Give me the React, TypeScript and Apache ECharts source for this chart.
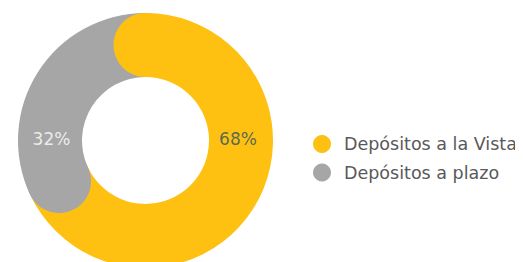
import React, { useEffect, useRef } from "react";
import * as echarts from "echarts";

const categories = ["Depósitos a la Vista", "Depósitos a plazo"];
const values = [68, 32];
const colors = ["#FEC111", "#A6A6A6"];
const labelColors = ["#2E5163", "#FFFFFF"];
// angle (0-100 scale, clockwise from top) where each percentage label sits
const labelAngles = [25, 75];

const CX = 137.5;
const CY = 132.5;
const INNER = 63.5;
const OUTER = 127.5;
const MID = (INNER + OUTER) / 2;
const LABEL_OFFSETS = [
  [-3, -1.5],
  [1.5, -1.5],
];

export default function App() {
  const ref = useRef<HTMLDivElement>(null);
  useEffect(() => {
    if (!ref.current) return;
    const chart = echarts.init(ref.current, null, { renderer: "svg" });
    const total = values.reduce((a, b) => a + b, 0);
    const starts: number[] = [];
    let acc = 0;
    values.forEach((v) => {
      starts.push((acc / total) * 100);
      acc += v;
    });
    const font = "'DejaVu Sans', sans-serif";
    chart.setOption({
      animation: false,
      polar: { center: [CX, CY], radius: OUTER },
      angleAxis: {
        type: "value",
        min: 0,
        max: 100,
        startAngle: 90,
        clockwise: true,
        show: false,
      },
      radiusAxis: { type: "value", min: 0, max: OUTER, show: false },
      legend: {
        data: categories,
        orient: "vertical",
        left: 300,
        top: 122,
        padding: 5,
        icon: "circle",
        itemWidth: 18,
        itemHeight: 18,
        itemGap: 10.5,
        textStyle: {
          fontSize: 17.5,
          color: "#595959",
          fontFamily: font,
          fontWeight: "normal",
          padding: [0, 0, 0, 8],
        },
        selectedMode: false,
      },
      series: [
        {
          type: "pie",
          center: [CX, CY],
          radius: [INNER, OUTER],
          startAngle: 90,
          clockwise: true,
          label: { show: false },
          labelLine: { show: false },
          silent: true,
          data: categories.map((c, i) => ({
            name: c,
            value: values[i],
            itemStyle: { color: colors[i] },
          })),
        },
        {
          type: "scatter",
          coordinateSystem: "polar",
          symbol: "circle",
          symbolSize: OUTER - INNER,
          silent: true,
          data: starts.map((s, i) => ({
            value: [MID, s],
            itemStyle: { color: colors[i], opacity: 1 },
          })),
        },
        {
          type: "scatter",
          coordinateSystem: "polar",
          symbolSize: 0,
          silent: true,
          label: {
            show: true,
            position: "inside",
            fontSize: 17,
            fontFamily: font,
            fontWeight: "normal",
            formatter: (p: any) => p.data.text,
          },
          data: values.map((v, i) => ({
            value: [MID, labelAngles[i]],
            text: `${Math.round((v / total) * 100)}%`,
            label: { color: labelColors[i], offset: LABEL_OFFSETS[i] },
          })),
        },
      ],
    });
    return () => chart.dispose();
  }, []);
  return <div ref={ref} style={{ width: 523, height: 262 }} />;
}
